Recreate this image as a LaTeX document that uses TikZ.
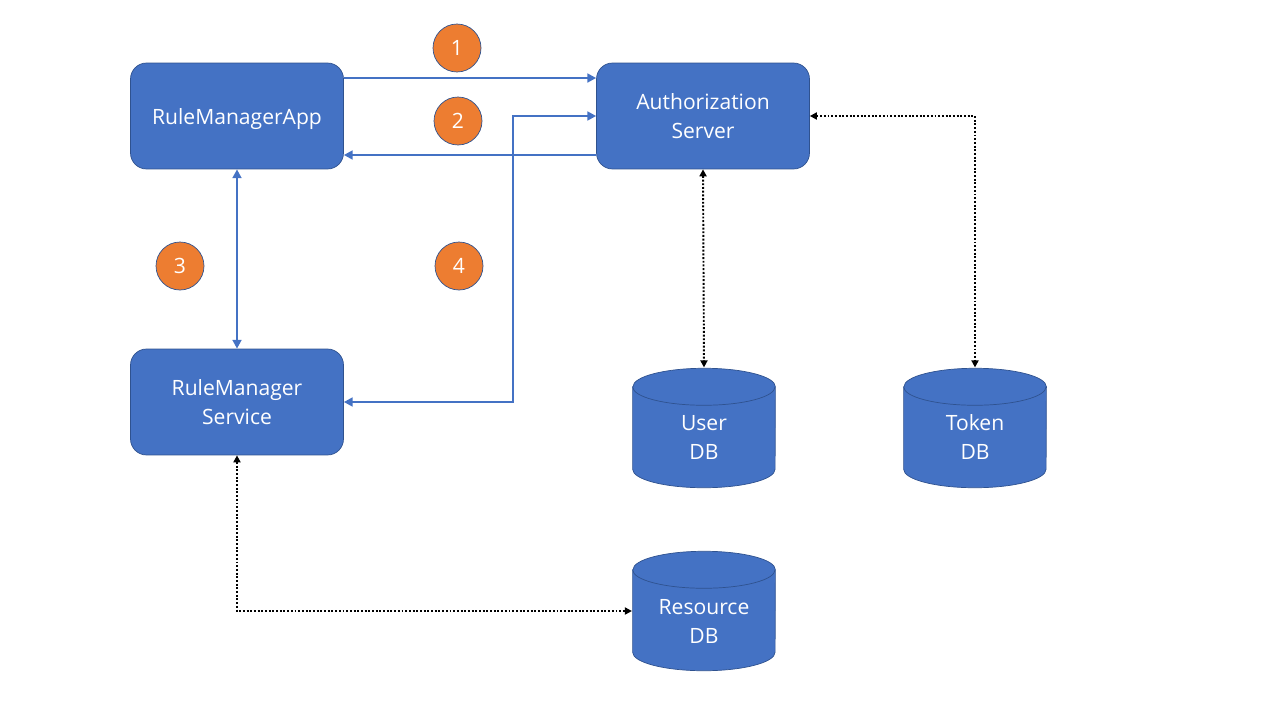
\documentclass[tikz,border=0pt]{standalone}
\usepackage{fontspec}
\setmainfont{Open Sans}
\usetikzlibrary{arrows.meta}
\definecolor{boxblue}{HTML}{4472C4}
\definecolor{edgeblue}{HTML}{2F528F}
\definecolor{steporange}{HTML}{ED7D31}
\tikzset{
    server/.style={rectangle,rounded corners=0.32cm,fill=boxblue,draw=edgeblue,
        minimum width=4.26cm,minimum height=2.12cm,text=white,align=center,text depth=0pt,
        font=\fontsize{12}{16.5}\selectfont},
    % cylinder drawn inside a plain rectangle node
    database/.style={rectangle,minimum width=2.87cm,minimum height=2.41cm,inner sep=0pt,
        path picture={
            \draw[fill=boxblue,draw=edgeblue,line width=0.4pt]
                ([xshift=0.2pt,yshift=-0.38cm]path picture bounding box.north west)
                -- ([xshift=0.2pt,yshift=0.38cm]path picture bounding box.south west)
                arc[start angle=180,end angle=360,x radius=1.425cm,y radius=0.37cm]
                -- ([xshift=-0.2pt,yshift=-0.38cm]path picture bounding box.north east)
                arc[start angle=0,end angle=180,x radius=1.425cm,y radius=0.37cm] -- cycle;
            \draw[edgeblue,line width=0.4pt]
                ([xshift=0.2pt,yshift=-0.38cm]path picture bounding box.north west)
                arc[start angle=180,end angle=360,x radius=1.425cm,y radius=0.37cm];
        }},
    dbtext/.style={text=white,align=center,font=\fontsize{12}{16.5}\selectfont},
    badge/.style={circle,fill=steporange,draw=edgeblue,line width=0.4pt,minimum size=0.96cm,
        inner sep=0pt,text=white,font=\fontsize{12}{14}\selectfont},
    flow/.style={draw=boxblue,line width=1.5pt,-{Triangle[length=5pt,width=5pt]}},
    twoway/.style={draw=boxblue,line width=1.5pt,
        {Triangle[length=5pt,width=5pt]}-{Triangle[length=5pt,width=5pt]}},
    link/.style={densely dotted,line width=1.1pt,
        {Triangle[length=4pt,width=4pt]}-{Triangle[length=4pt,width=4pt]}},
}

\begin{document}
\begin{tikzpicture}[x=0.02cm,y=-0.02cm]
        \useasboundingbox (0,0) rectangle (1280,720);
        % boxes
        \node[server] (app) at (237,116) {RuleManagerApp};
        \node[server] (auth) at (703,116) {Authorization\\Server};
        \node[server] (rms) at (237,402) {RuleManager\\Service};
        % databases
        \node[database] (userdb) at (704,428) {};
        \node[dbtext] (usertext) at ([yshift=-0.18cm]userdb.center) {User\\DB};
        \node[database] (tokendb) at (975,428) {};
        \node[dbtext] (tokentext) at ([yshift=-0.18cm]tokendb.center) {Token\\DB};
        \node[database] (resdb) at (704,611) {};
        \node[dbtext] (restext) at ([yshift=-0.2cm]resdb.center) {Resource\\DB};
        % steps
        \node[badge] (s1) at (457,48) {1};
        \node[badge] (s2) at (458,121) {2};
        \node[badge] (s3) at (180,266) {3};
        \node[badge] (s4) at (459,266) {4};
        % flows
        \draw[flow] ([yshift=0.76cm]app.east) -- ([yshift=0.76cm]auth.west);
        \draw[flow] ([yshift=-0.78cm]auth.west) -- ([yshift=-0.78cm]app.east);
        \draw[twoway] (app.south) -- (rms.north);
        \draw[twoway] (rms.east) -- ++(169,0) |- (auth.west);
        \draw[link] (auth.south) -- (userdb.north);
        \draw[link] (auth.east) -| (tokendb.north);
        \draw[link] (rms.south) |- (resdb.west);
\end{tikzpicture}
\end{document}
